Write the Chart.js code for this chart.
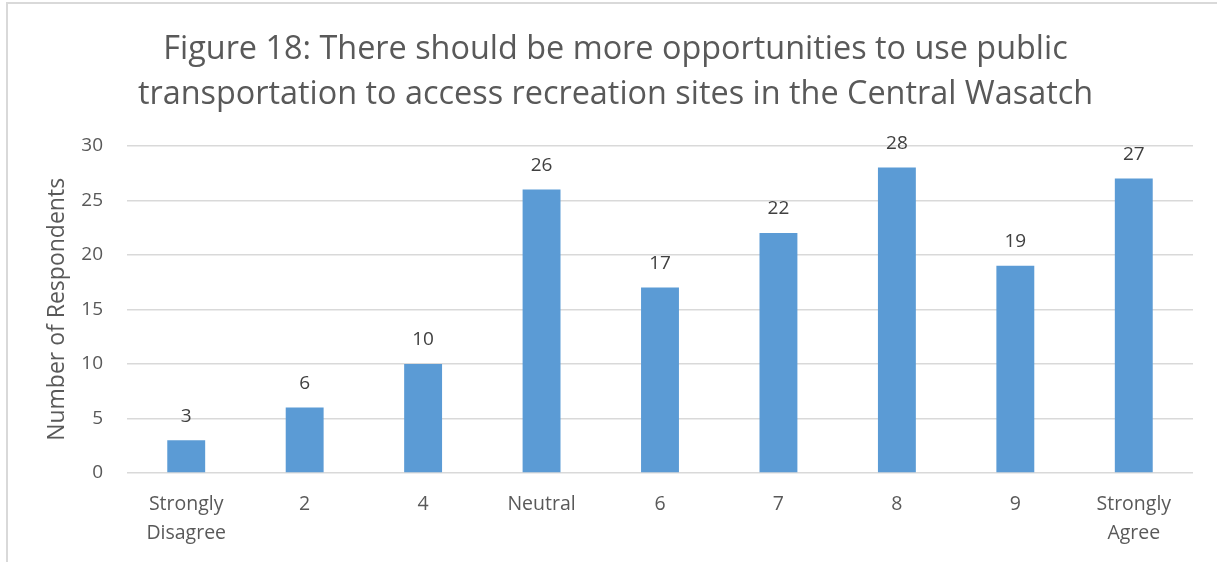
<!DOCTYPE html>
<html>
<head>
<meta charset="utf-8">
<script src="https://cdn.jsdelivr.net/npm/chart.js@4"></script>
<style>
  html, body { margin: 0; padding: 0; background: #fff; }
  body { width: 1217px; height: 562px; overflow: hidden; position: relative; }
  #frame {
    position: absolute; left: 6px; top: 2px; right: 0; bottom: 0;
    border-top: 2px solid #D9D9D9; border-left: 2px solid #D9D9D9;
    box-sizing: border-box;
  }
  #chart { display: block; }
</style>
</head>
<body>
<div id="frame"><canvas id="chart" width="1209" height="558"></canvas></div>
<script>
const titleLines = [
  'Figure 18: There should be more opportunities to use public',
  'transportation to access recreation sites in the Central Wasatch'
];
const categories = [
  ['Strongly', 'Disagree'], '2', '4', 'Neutral', '6', '7', '8', '9', ['Strongly', 'Agree']
];
const respondents = [3, 6, 10, 26, 17, 22, 28, 19, 27];
const yTicks = { min: 0, max: 30, step: 5 };
const yAxisTitle = 'Number of Respondents';

const FONT = "'Open Sans', 'Liberation Sans', sans-serif";
const TEXT = '#595959';

// Writes each bar's value just above it
const valueLabels = {
  id: 'valueLabels',
  afterDatasetsDraw(chart) {
    const { ctx } = chart;
    const meta = chart.getDatasetMeta(0);
    ctx.save();
    ctx.font = '19px ' + FONT;
    ctx.fillStyle = '#404040';
    ctx.textAlign = 'center';
    ctx.textBaseline = 'middle';
    meta.data.forEach((bar, i) => {
      ctx.fillText(String(respondents[i]), bar.x, bar.y - 24);
    });
    ctx.restore();
  }
};

new Chart(document.getElementById('chart'), {
  type: 'bar',
  data: {
    labels: categories,
    datasets: [{
      data: respondents,
      backgroundColor: '#5B9BD5',
      borderWidth: 0,
      categoryPercentage: 1,
      barPercentage: 0.32
    }]
  },
  options: {
    responsive: false,
    animation: false,
    layout: { padding: { left: 30, right: 24, top: 0, bottom: 0 } },
    plugins: {
      legend: { display: false },
      tooltip: { enabled: false },
      title: {
        display: true,
        text: titleLines,
        color: TEXT,
        font: { family: FONT, size: 32.4, weight: 'normal', lineHeight: 1.37 },
        padding: { top: 24, bottom: 29 }
      }
    },
    scales: {
      x: {
        grid: { display: false, drawTicks: false },
        border: { display: false },
        ticks: {
          color: TEXT,
          font: { family: FONT, size: 19.5, lineHeight: 1.48 },
          padding: 17,
          maxRotation: 0,
          autoSkip: false
        },
        afterFit(scale) { scale.height = 89; }
      },
      y: {
        min: yTicks.min,
        max: yTicks.max,
        grid: { color: '#D9D9D9', lineWidth: 1.5, drawTicks: false },
        border: { display: false },
        ticks: {
          stepSize: yTicks.step,
          color: TEXT,
          font: { family: FONT, size: 19 },
          padding: 24
        },
        title: {
          display: true,
          text: yAxisTitle,
          color: TEXT,
          font: { family: FONT, size: 23 },
          padding: { top: 6, bottom: 0 }
        },
        afterFit(scale) { scale.width = 89; }
      }
    }
  },
  plugins: [valueLabels]
});
</script>
</body>
</html>
